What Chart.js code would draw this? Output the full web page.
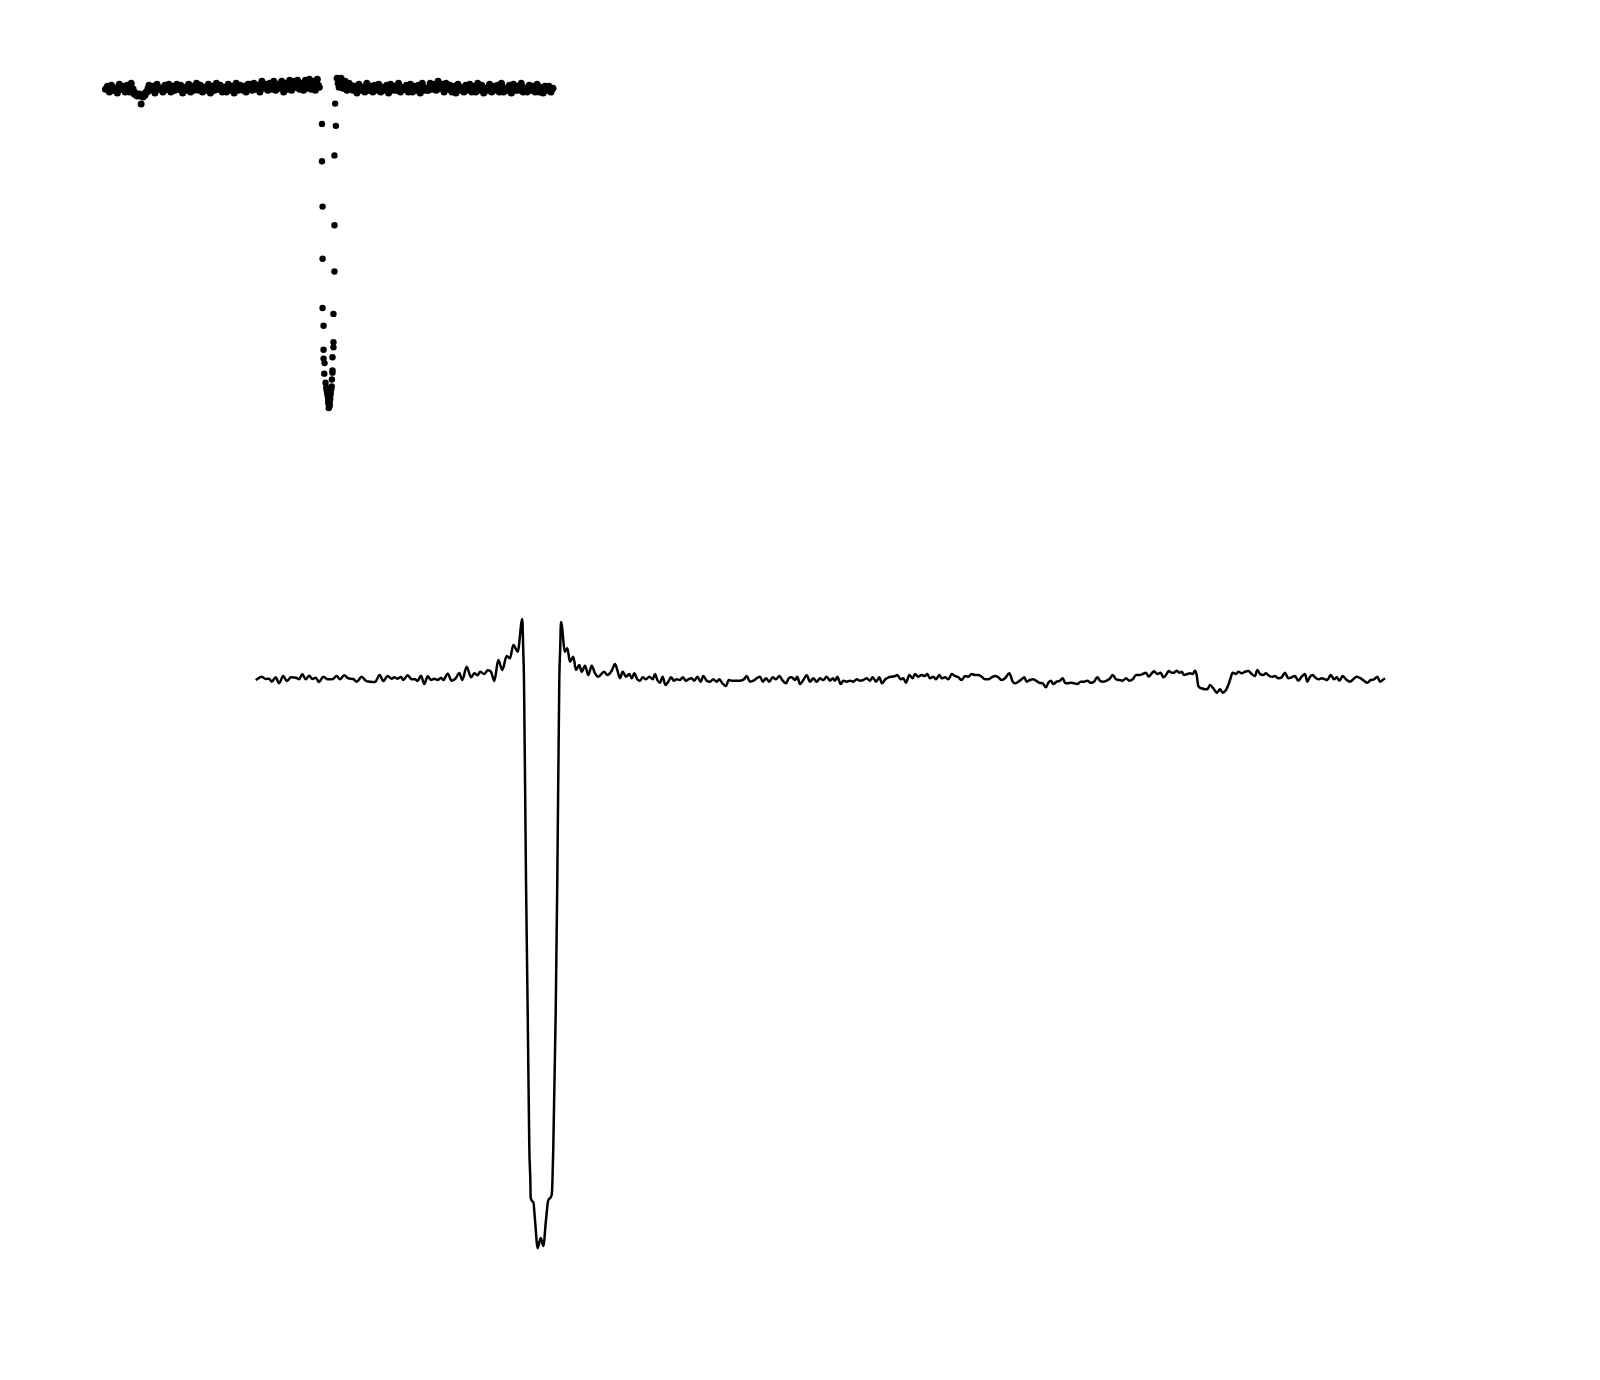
<!DOCTYPE html>
<html><head><meta charset="utf-8">
<script src="https://cdn.jsdelivr.net/npm/chart.js@4.4.1/dist/chart.umd.min.js"></script>
<style>
html,body{margin:0;padding:0;background:#fff;width:1600px;height:1380px;overflow:hidden}
#lc{position:absolute;left:0;top:0;width:700px;height:450px}
#pf{position:absolute;left:0;top:560px;width:1600px;height:760px}
</style></head><body>
<canvas id="lc" width="700" height="450"></canvas>
<canvas id="pf" width="1600" height="760"></canvas>
<script>
// ---- Top panel: phase-folded light curve (time in minutes from mid-transit, flux drop in arbitrary units) ----
// night 1
const leftBandTime = [
-225,-223,-221,-219,-217,-215,-213,-211,-209,-207,-205,
-203,-201,-199,-197,-195,-193,-191,-189,-187,-185,
-183,-181,-179,-177,-175,-173,-171,-169,-167,-165,
-163,-161,-159,-157,-155,-153,-151,-149,-147,-145,
-143,-141,-139,-137,-135,-133,-131,-129,-127,-125,
-123,-121,-119,-117,-115,-113,-111,-109,-107,-105,
-103,-101,-99,-97,-95,-93,-91,-89,-87,-85,
-83,-81,-79,-77,-75,-73,-71,-69,-67,-65,
-63,-61,-59,-57,-55,-53,-51,-49,-47,-45,
-43,-41,-39,-37,-35,-33,-31,-29,-27,-25,
-23,-21,-19,-17,-15,-13,-11,-9];
const leftBandDrop = [
0,-3,3,-4,1,-1,4,-5,0,-3,3,-4,3,-6,0,
4,7,5,15,8,6,3,
-4,1,-3,4,-5,0,-1,3,-4,0,-5,3,-3,1,-5,0,-4,4,-1,1,-5,3,-3,0,-6,1,-4,3,-1,1,
-5,4,-3,1,-6,0,-4,3,-1,3,-5,1,-3,4,-6,1,-4,0,-3,3,-5,
-5,1,-6,0,-4,3,-8,-1,-5,1,-6,0,-8,1,-5,-1,-8,3,-6,0,
-9,1,-8,-2,-9,0,-6,1,-9,-1,-10,0,-8,1,-10,-2];
const rightBandTime = [
9,11,13,15,17,19,21,23,25,27,
29,31,33,35,37,39,41,43,45,47,
49,51,53,55,57,59,61,63,65,67,
69,71,73,75,77,79,81,83,85,87,
89,91,93,95,97,99,101,103,105,107,
109,111,113,115,117,119,121,123,125,127,
129,131,133,135,137,139,141,143,145,147,
149,151,153,155,157,159,161,163,165,167,
169,171,173,175,177,179,181,183,185,187,
189,191,193,195,197,199,201,203,205,207,
209,211,213,215,217,219,221,223,225,227];
const rightBandDrop = [
-11,-2,-11,-1,-8,1,-6,
-4,1,-3,4,-5,1,-1,3,-6,1,
-3,3,-4,0,-5,3,-1,1,-4,4,
-5,1,-3,1,-6,3,-1,0,-4,3,
-5,3,-3,1,-4,4,-6,1,-1,1,
-6,0,-5,1,-8,-1,-5,3,-6,0,
-4,3,-3,4,-5,1,-1,3,-4,0,
-5,3,-3,3,-6,1,-4,4,-1,1,
-5,3,-3,0,-4,3,-6,3,-1,1,
-4,4,-5,1,-3,1,-6,3,-1,3,
-4,1,-3,3,-5,3,-1,4,-3,1,
-3,3,-1];
// night 2
const leftMidTime = [
-224,-222,-220,-218,-216,-214,-212,-210,-208,-206,
-204,-202,-200,-198,-196,-194,-192,-190,-188,-186,
-184,-182,-180,-178,-176,-174,-172,-170,-168,-166,
-164,-162,-160,-158,-156,-154,-152,-150,-148,-146,
-144,-142,-140,-138,-136,-134,-132,-130,-128,-126,
-124,-122,-120,-118,-116,-114,-112,-110,-108,-106,
-104,-102,-100,-98,-96,-94,-92,-90,-88,-86,
-84,-82,-80,-78,-76,-74,-72,-70,-68,-66,
-64,-62,-60,-58,-56,-54,-52,-50,-48,-46,
-44,-42,-40,-38,-36,-34,-32,-30,-28,-26,
-24,-22,-20,-18,-16,-14,-12,-10];
const leftMidDrop = [
-1,0,-2,1,-1,0,-2,0,-1,1,-2,0,-2,-1,
5,6,6,7,6,5,3,
-1,0,-2,1,-1,-2,0,-1,1,-2,
-1,0,-2,1,-1,-2,0,-1,1,-2,
-1,0,-2,1,-1,-2,0,-1,1,-2,
-1,0,-2,1,-1,-2,0,-1,1,-2,
-1,0,-2,1,-1,-2,0,-1,1,-2,
-1,
-2,-1,-3,0,-2,-3,-1,-2,-4,-1,
-3,-2,-4,-1,-3,-2,-4,-3,-2,-4,
-3,-5,-2,-4,-3,-5,-4,-2,-5,-3,
-4,-5,-3,-4,-6,-4];
const rightMidTime = [
10,12,14,16,18,20,22,24,26,28,
30,32,34,36,38,40,42,44,46,48,
50,52,54,56,58,60,62,64,66,68,
70,72,74,76,78,80,82,84,86,88,
90,92,94,96,98,100,102,104,106,108,
110,112,114,116,118,120,122,124,126,128,
130,132,134,136,138,140,142,144,146,148,
150,152,154,156,158,160,162,164,166,168,
170,172,174,176,178,180,182,184,186,188,
190,192,194,196,198,200,202,204,206,208,
210,212,214,216,218,220,222,224,226];
const rightMidDrop = [
-6,-5,-4,-4,-3,-2,-2,
-1,0,-2,1,-1,-2,0,-1,1,-2,
-1,0,-2,1,-1,-2,0,-1,1,-2,
-1,0,-2,1,-1,-2,0,-1,1,-2,
-1,0,-2,1,-1,-2,0,-1,1,-2,
-2,-1,-3,0,-2,-3,-1,-2,0,-3,
-1,0,-2,1,-1,-2,0,-1,1,-2,
-1,0,-2,1,-1,-2,0,-1,1,-2,
-1,0,-2,1,-1,-2,0,-1,1,-2,
-1,0,-2,1,-1,-2,0,-1,1,-2,
-1,0,-2,1,-1,-2,0,-1,1,-2,
-1,0];
const ingressTime = [-6.3,-6.3,-5.7,-5.7,-5.7,-4.7,-4.7,-4.7,-3.7,-4,-2.7];
const ingressDrop = [35.3,73.3,119.3,172.3,222.3,240.3,264.7,273.7,278.3,289,298.3];
const egressTime = [7,7.7,6.3,6.3,6.3,5.3,5.3,5.3,4.3,4.3,4.3,3.7];
const egressDrop = [14.7,37.3,67.3,138.3,185.3,228.3,257,262.3,272.3,285.7,288,295];
const minimumTime = [-2,3.5,-1.5,3,-1,2.5,-0.5,2,0,2,0,1.5,0.5,1.5,1,0.5];
const minimumDrop = [303,302,306,305,309,309,312,312,315,315,318,318,320,321,323,324];

// ---- Bottom panel: profile (lag vs signal) ----
const profileLag = [
-284.3,-278.3,-274.3,-271,-268.3,-264.3,-261,-256.7,-253.3,-249,
-243.3,-241,-237.7,-234.3,-230.7,-227.7,-224.3,-221,-216.7,-212.3,
-207.7,-203.3,-200,-195.7,-191.7,-186.7,-183.3,-178.3,-174.3,-170,
-165,-160.3,-156.7,-152.3,-148.3,-145.7,-142.3,-139,-136.7,-132.3,
-128.3,-125,-122.3,-119,-115.7,-112.3,-109,-105.7,-102.3,-99,
-96.7,-92.3,-88.3,-84.3,-80.7,-77.7,-73.3,-69,-65.7,-62.3,
-60,-55.7,-52.3,-49,-45.7,-41.7,-37.7,-33.3,-30,-26.7,
-22.3,-17.7,-16.8,-16,-14,-12.3,-10.7,-9.7,-9.3,-6.7,
-5,-2.3,0.7,3.3,6,8.3,11.7,12.5,13.3,15.7,
17.3,19.3,20.2,21,25,27.3,30,33.3,36,39.3,
41.7,45,48.3,51.7,55,58.3,64,67.3,71.7,75,
77.3,80,82.7,86,89.3,91.7,94.3,97.3,100,102.7,
106,109.3,112.7,115,117.3,120,122.7,125.3,128.3,131,
134,136.7,140,142.7,146,148.3,151.7,154.3,157.3,160.7,
163.3,166.7,170,173.3,176.7,179.3,182.3,186,188.7,192,
196,200,204,206.7,210,213.3,216.7,220,222.7,226,
229.3,232.7,236,239.3,242.7,246,248.7,251.7,255,257.3,
260,263.3,266.7,270,273.3,276.7,280,283.3,286.7,290,
292.7,295,297.3,300.7,303.3,306.7,310,313.3,316.7,320,
323.3,326.7,330,332.7,336,339.3,342,345.3,348.7,352,
355.3,357.3,360.7,363.3,366,369.3,372.7,375,378.3,381.7,
385,387.3,390,393.3,396,399.3,401.7,405,408.3,411.7,
415,418.3,421.7,425,428.3,431.7,435,438.3,441.7,445,
448.3,451.7,455,458.3,461.7,465,469.3,472.7,475,478.3,
481.7,484.3,486.7,490,493.3,496,499.3,502.7,506,508.3,
510.7,513.3,516.7,520,522.7,525,527.3,530.7,534,537.3,
540.7,544,547.3,550.7,554,557.3,560,563.3,566.7,570,
572.7,576,579.3,582.7,586,589.3,592.7,596,599.3,602.7,
606,608.7,611.7,614,617.3,620.7,623.3,626,628.7,631.7,
634,636.7,639.3,641.7,644,647.3,650,652.7,655,656.7,
658.3,661.7,665,667.3,670,673.3,676.7,680,682.7,686,
688.3,690,692.7,696,698.3,701.7,705,708.3,711.7,715,
717.3,720,723.3,726,729.3,732.7,735,738.3,741.7,745,
748.3,751.7,755,758.3,761.7,765,767.3,770,772.7,775,
778.3,781.7,785,787.3,790.7,794,796.7,799.3,802.7,806.7,
810,813.3,816.7,820.7,824,827.3,830.7,834,837.3,840,
842.7,845];
const profileSignal = [
-1,2.3,0,0.3,-2.7,1.7,-4.3,3,-2,1.7,
1,-0.3,4.7,-0.3,3.3,0,1.3,-3,2.3,-0.3,
-0.3,3,-0.3,3.7,0.7,0,-2.7,2.3,-1.7,-2.7,
-3,4,-2,3,0.3,1.7,0.3,2,-1,3.7,
-0.3,-0.3,-2,3.3,-5,2.7,-1,0.3,-1,1.3,
-1,5.3,-1.7,0.7,6,-1,12.3,1.7,5.7,3.7,
7.3,5,8.7,7.3,-2,19,9,23,20.7,34,
27.3,60,30,-1,-201,-334,-468,-500,-519,-523,
-541,-569,-559,-567,-541,-521,-516,-500,-468,-334,
-201,-1,30,57,27.3,30.7,17.3,22.3,9,14,
7.3,13.3,4,13.3,5.7,2.3,7.3,4,8.3,15,
9,0.7,7.3,2.3,5,0.7,5.7,-0.3,-1.7,1.7,
-0.3,2.3,-0.3,5,-1,-3.7,2.3,-6,-2.7,1.7,
-1.7,-0.3,-1,1.7,-1.7,-0.3,0.7,-1.7,2.3,-2.7,
3,-1.7,-2.7,-0.3,-2.7,-0.3,-4.3,-7,-1,-1.7,
-1.7,-1.7,-0.3,3,-2.7,-1.7,0.7,2.3,-2.7,0.7,
-2.7,1.7,-0.3,3,-1.7,-4.3,0.7,1.7,-1,2.3,
-5,-1,3.7,-2.7,0.7,-2.7,0.7,-1,2.3,-1.7,
0.7,-1.7,2.3,-5,-1.7,-2.7,-1.7,-2.7,-0.3,-1.7,
-1,0.7,-1.7,1.7,-2.7,1.7,-4.3,-0.3,1.7,2.3,
3,4,-0.3,0.7,-3.7,4,0.7,5,2.3,4,
3,5,0.7,2.3,-0.3,4,0.7,1.7,-0.3,5,
3,1.7,-1,3,2.3,5,4,4,2.3,-0.3,
-0.3,1.7,3,1.7,-1,0.7,5.7,-2.7,-4.3,-2.7,
-0.3,1.7,-2.7,-1,-0.3,-1.7,-3.7,-4.3,-8.3,-3.7,
-1.7,-5,-2.7,-1.7,0.7,-3.7,-4.3,-3.7,-4.3,-5,
-2.7,-2.7,-1.7,-3.7,-2.7,1.7,-1.7,-2.7,-1.7,0.7,
4,-0.3,-1,-1.7,0.7,-1.7,-0.3,4,4,5,
6.3,2.3,5.7,7.7,5,6.3,1.7,4,8,6.3,
6.3,8.3,6.3,7.3,4,5,5.7,5,8.3,4,
-7,-9.3,-10.3,-10.3,-6,-9.3,-13.7,-10.3,-13.7,-11,
-6,-1,6.3,5,7.3,5.7,7.3,8,5,3,
9,5,4,5.7,3,2.3,3,0.7,1.7,6.3,
0.7,1.7,3,-1.7,2.3,5,-2.7,2.3,4,1.7,
-0.3,0.7,-0.3,-1,4,-0.3,1.7,-1.7,3,-1,
-2.7,-0.3,2.3,0.7,-1.7,-3.7,-1,-0.3,2.3,-2.7,
-1,0.7];

const pts = (xs, ys) => xs.map((x, i) => ({x: x, y: ys[i]}));
const bandStyle = {pointRadius: 3.5, pointBackgroundColor: '#000', pointBorderWidth: 0, pointHoverRadius: 3.5, showLine: false};
const dotStyle = {pointRadius: 3.2, pointBackgroundColor: '#000', pointBorderWidth: 0, pointHoverRadius: 3.2, showLine: false};
const hiddenCommon = {responsive: false, devicePixelRatio: 1, animation: false, events: [],
  layout: {padding: 0}, plugins: {legend: {display: false}, tooltip: {enabled: false}, title: {display: false}}};

new Chart(document.getElementById('lc'), {
  type: 'scatter',
  data: {datasets: [
    Object.assign({label: 'pre-transit n1', data: pts(leftBandTime, leftBandDrop)}, bandStyle),
    Object.assign({label: 'post-transit n1', data: pts(rightBandTime, rightBandDrop)}, bandStyle),
    Object.assign({label: 'pre-transit n2', data: pts(leftMidTime, leftMidDrop)}, bandStyle),
    Object.assign({label: 'post-transit n2', data: pts(rightMidTime, rightMidDrop)}, bandStyle),
    Object.assign({label: 'ingress', data: pts(ingressTime, ingressDrop)}, dotStyle),
    Object.assign({label: 'egress', data: pts(egressTime, egressDrop)}, dotStyle),
    Object.assign({label: 'minimum', data: pts(minimumTime, minimumDrop)}, dotStyle)
  ]},
  options: Object.assign({}, hiddenCommon, {
    scales: {
      x: {type: 'linear', display: false, min: -328, max: 372},
      y: {type: 'linear', display: false, min: -87, max: 363, reverse: true}
    }
  })
});

new Chart(document.getElementById('pf'), {
  type: 'line',
  data: {datasets: [{label: 'profile', data: pts(profileLag, profileSignal),
    borderColor: '#000', borderWidth: 2.5, pointRadius: 0, fill: false,
    cubicInterpolationMode: 'monotone'}]},
  options: Object.assign({}, hiddenCommon, {
    scales: {
      x: {type: 'linear', display: false, min: -540, max: 1060},
      y: {type: 'linear', display: false, min: -641, max: 119}
    }
  })
});
</script>
</body></html>
